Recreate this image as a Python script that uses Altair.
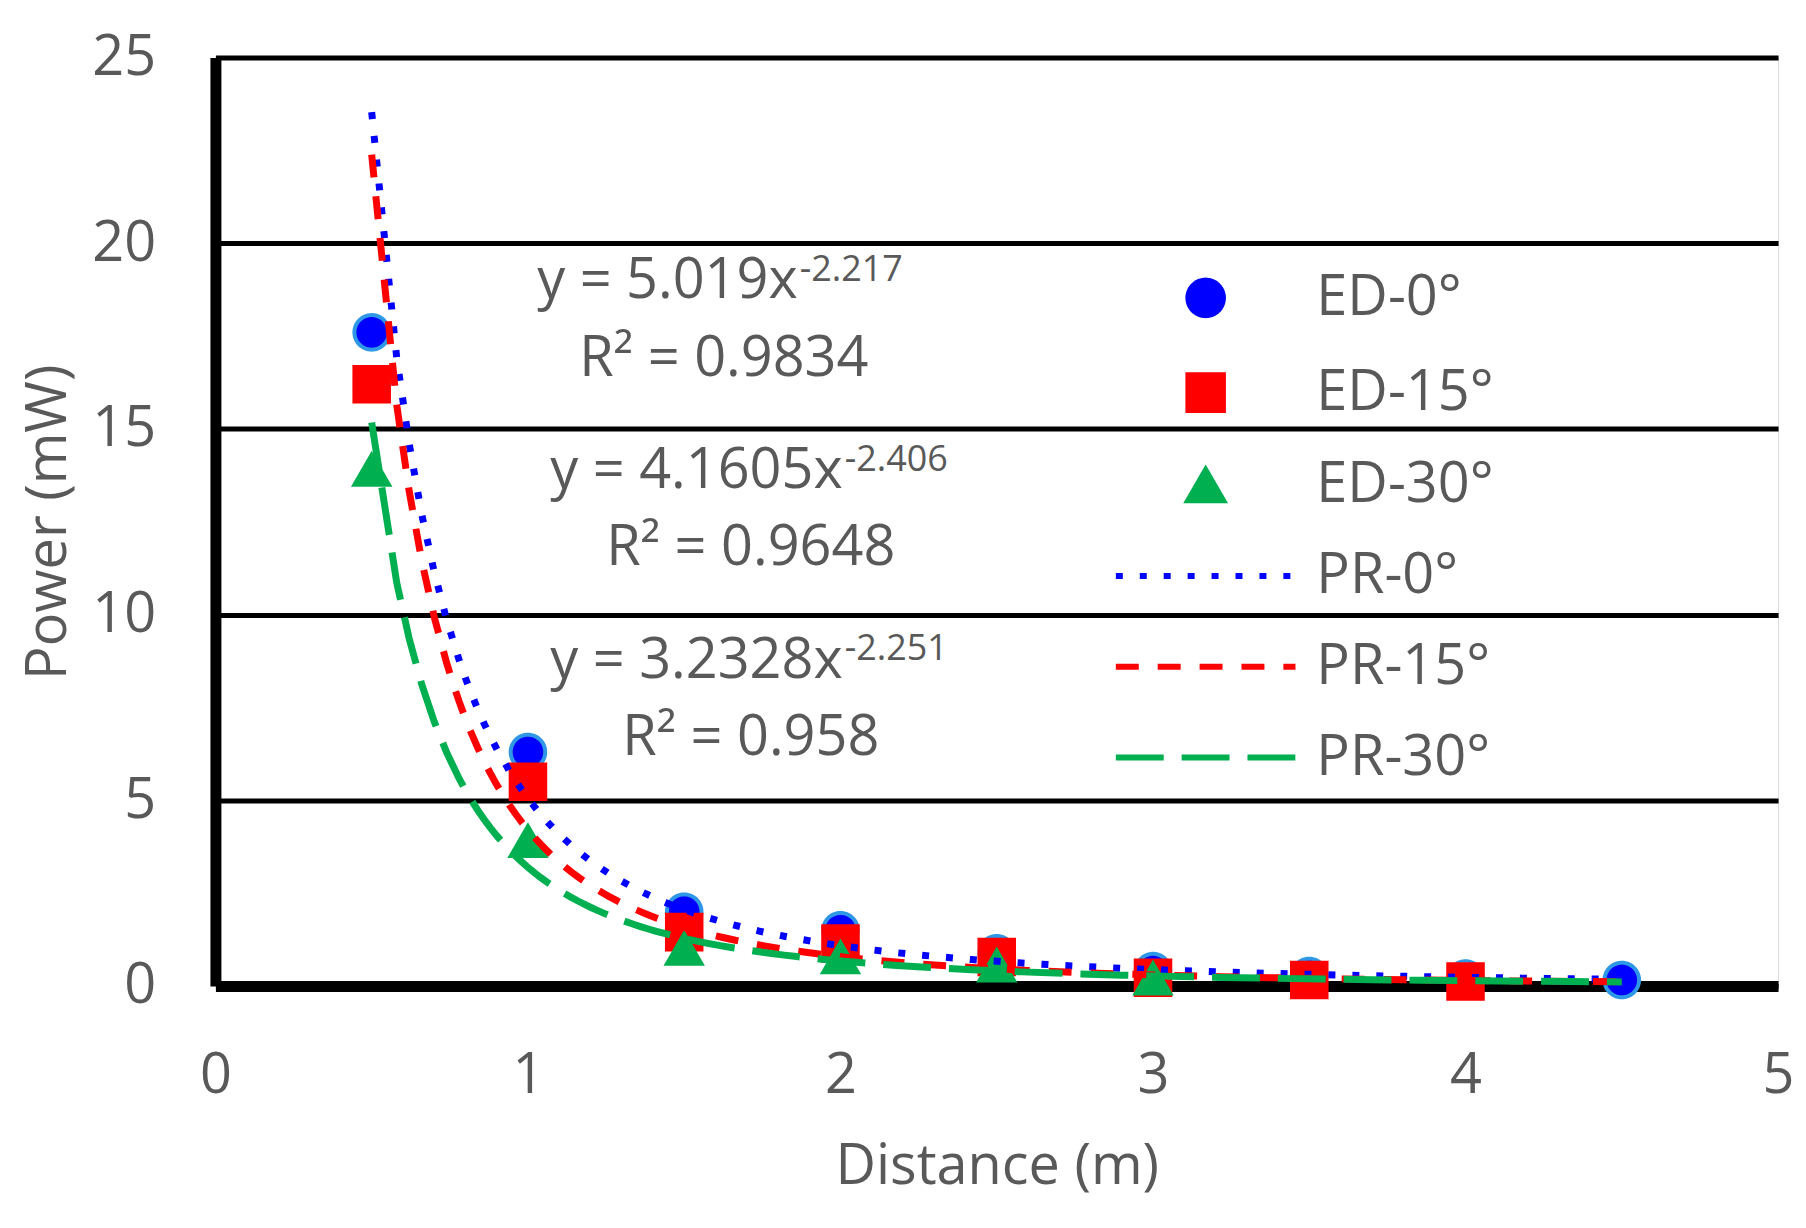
import altair as alt
import pandas as pd

# ---------------- data ----------------
distance = [0.5, 1.0, 1.5, 2.0, 2.5, 3.0, 3.5, 4.0, 4.5]
ed_0 = [17.6, 6.3, 2.0, 1.5, 0.88, 0.4, 0.27, 0.2, 0.16]
ed_15 = [16.2, 5.5, 1.45, 1.14, 0.78, 0.22, 0.16, 0.12]
ed_30 = [13.9, 3.9, 1.0, 0.77, 0.55, 0.2]

series_names = ["ED-0°", "ED-15°", "ED-30°", "PR-0°", "PR-15°", "PR-30°"]
series_fill = ["#0000FF", "#FF0000", "#00B050", "#0000FF", "#FF0000", "#00B050"]
series_stroke = ["#2E97E6", "#FF0000", "#00B050", "#0000FF", "#FF0000", "#00B050"]
series_shape = ["circle", "square", "triangle-up", "M-5.2,0H5.2", "M-5.2,0H5.2", "M-5.2,0H5.2"]
series_dash = [[1, 0], [1, 0], [1, 0], [7, 17], [23, 19], [48, 18]]

x_ticks = [0, 1, 2, 3, 4, 5]
y_ticks = [0, 5, 10, 15, 20, 25]

# trendline labels (as printed on the chart) and their anchor positions (data units)
eq_main = ["y = 5.019x", "y = 4.1605x", "y = 3.2328x"]
eq_sup = ["-2.217", "-2.406", "-2.251"]
eq_x = [1.863, 2.007, 2.007]
eq_y = [18.53, 13.40, 8.30]
eq_sup_y = [18.98, 13.88, 8.78]
r2_text = ["R² = 0.9834", "R² = 0.9648", "R² = 0.958"]
r2_x = [1.627, 1.713, 1.713]
r2_y = [16.43, 11.33, 6.23]

FONT = "Open Sans"
GRAY = "#595959"

rows = []
for name, vals in zip(series_names[:3], [ed_0, ed_15, ed_30]):
    for xv, yv in zip(distance, vals):
        rows.append({"series": name, "x": xv, "y": yv})
df = pd.DataFrame(rows)

ann_main = pd.DataFrame({"x": eq_x, "y": eq_y, "t": eq_main})
ann_sup = pd.DataFrame({"x": eq_x, "y": eq_sup_y, "t": eq_sup})
ann_r2 = pd.DataFrame({"x": r2_x, "y": r2_y, "t": r2_text})

x_enc = alt.X(
    "x:Q",
    scale=alt.Scale(domain=[0, 5], nice=False, zero=True),
    axis=alt.Axis(
        values=x_ticks, grid=False, ticks=False, tickSize=0,
        domainColor="black", domainWidth=11,
        labelFont=FONT, labelFontSize=56, labelColor=GRAY,
        labelPadding=107, labelBaseline="alphabetic", labelFlush=False, format="d",
        title="Distance (m)", titleFont=FONT, titleFontSize=56, titleColor=GRAY,
        titleFontWeight="normal", titleX=783.5, titleY=198, titleBaseline="alphabetic",
    ),
)
y_enc = alt.Y(
    "y:Q",
    scale=alt.Scale(domain=[0, 25], nice=False, zero=True),
    axis=alt.Axis(
        values=y_ticks, grid=True, gridColor="black", gridWidth=5,
        ticks=False, tickSize=0,
        domainColor="black", domainWidth=11,
        labelFont=FONT, labelFontSize=56, labelColor=GRAY, labelPadding=60,
        title="Power (mW)", titleFont=FONT, titleFontSize=56, titleColor=GRAY,
        titleFontWeight="normal", titleAngle=270, titleX=-150, titleY=465.5,
        titleBaseline="alphabetic",
    ),
)

leg = alt.Legend(
    title=None, orient="none", legendX=965, legendY=213,
    labelFont=FONT, labelFontSize=56, labelColor=GRAY, labelOffset=83, labelLimit=500,
    rowPadding=35, symbolSize=1200, symbolStrokeWidth=6, padding=0,
)

color_scale = alt.Scale(domain=series_names, range=series_fill)
stroke_scale = alt.Scale(domain=series_names, range=series_stroke)
shape_scale = alt.Scale(domain=series_names, range=series_shape)
dash_scale = alt.Scale(domain=series_names, range=series_dash)

points = alt.Chart(df).mark_point(filled=True, opacity=1, size=1200, strokeWidth=4).encode(
    x=x_enc, y=y_enc,
    color=alt.Color("series:N", scale=color_scale, legend=leg),
    shape=alt.Shape("series:N", scale=shape_scale, legend=leg),
    stroke=alt.Stroke("series:N", scale=stroke_scale, legend=leg),
    strokeDash=alt.StrokeDash("series:N", scale=dash_scale, legend=leg),
)

lines = alt.Chart(df).transform_regression(
    "x", "y", method="pow", groupby=["series"], extent=[0.5, 4.5]
).transform_calculate(
    pr="replace(datum.series, 'ED', 'PR')"
).mark_line(strokeWidth=7).encode(
    x=x_enc, y=y_enc,
    color=alt.Color("pr:N", scale=color_scale, legend=None),
    strokeDash=alt.StrokeDash("pr:N", scale=dash_scale, legend=None),
)

txt_main = alt.Chart(ann_main).mark_text(
    font=FONT, fontSize=56, color=GRAY, align="right", baseline="alphabetic"
).encode(x=x_enc, y=y_enc, text="t:N")
txt_sup = alt.Chart(ann_sup).mark_text(
    font=FONT, fontSize=36, color=GRAY, align="left", baseline="alphabetic", dx=2
).encode(x=x_enc, y=y_enc, text="t:N")
txt_r2 = alt.Chart(ann_r2).mark_text(
    font=FONT, fontSize=56, color=GRAY, align="center", baseline="alphabetic"
).encode(x=x_enc, y=y_enc, text="t:N")

chart = alt.layer(points, lines, txt_main, txt_sup, txt_r2).properties(
    width=1567, height=931,
    autosize=alt.AutoSizeParams(type="none"),
    padding={"left": 208, "top": 48, "right": 20, "bottom": 233},
).configure_view(strokeWidth=0).configure(background="white")

chart.save("out.html", embed_options={"renderer": "svg", "actions": False})
